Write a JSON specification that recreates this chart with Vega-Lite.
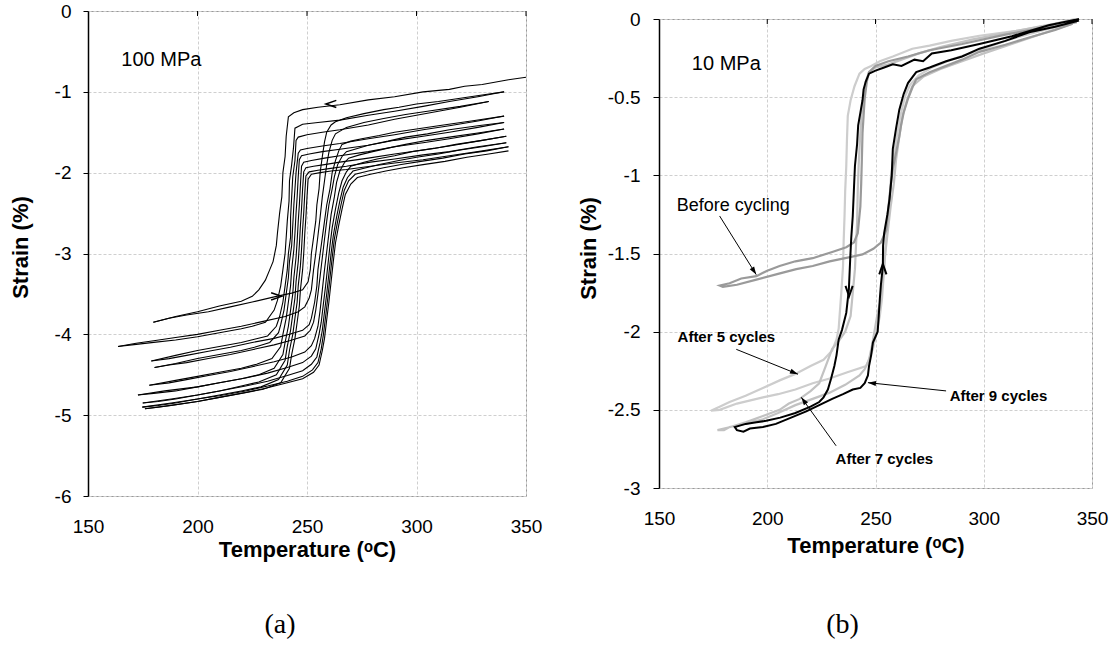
{
"$schema": "https://vega.github.io/schema/vega-lite/v6.json",
"background": "white",
"padding": {"left": 8, "top": 1, "right": 0, "bottom": 0},
"bounds": "flush",
"center": true,
"spacing": 133,
"resolve": {"scale": {"shape": "independent", "color": "independent"}},
"config": {
  "font": "Liberation Sans",
  "view": {"stroke": "#999999", "strokeWidth": 1},
  "axis": {"labelFont": "Liberation Sans", "titleFont": "Liberation Sans", "labelColor": "#000000", "titleColor": "#000000", "gridColor": "#cfcfcf", "gridDash": [3, 2], "gridWidth": 1}
},
"datasets": {
"A": [
{"b":"c1","t":350,"s":-0.82},{"b":"c1","t":342,"s":-0.85},{"b":"c1","t":330,"s":-0.91},{"b":"c1","t":322,"s":-0.93},{"b":"c1","t":315,"s":-0.97},{"b":"c1","t":303,"s":-1.0},{"b":"c1","t":290,"s":-1.06},{"b":"c1","t":278,"s":-1.1},{"b":"c1","t":265,"s":-1.16},{"b":"c1","t":255,"s":-1.19},{"b":"c1","t":248,"s":-1.22},{"b":"c1","t":244,"s":-1.26},{"b":"c1","t":241.5,"s":-1.31},{"b":"c1","t":240.5,"s":-1.55},{"b":"c1","t":240,"s":-1.8},{"b":"c1","t":239,"s":-2.0},{"b":"c1","t":238.5,"s":-2.3},{"b":"c1","t":237.5,"s":-2.5},{"b":"c1","t":236.5,"s":-2.75},{"b":"c1","t":236,"s":-2.9},{"b":"c1","t":234.5,"s":-3.1},{"b":"c1","t":233,"s":-3.2},{"b":"c1","t":231,"s":-3.33},{"b":"c1","t":228,"s":-3.45},{"b":"c1","t":225,"s":-3.53},{"b":"c1","t":220,"s":-3.59},{"b":"c1","t":210,"s":-3.65},{"b":"c1","t":200,"s":-3.72},{"b":"c1","t":190,"s":-3.78},{"b":"c1","t":180,"s":-3.85},
{"b":"h1","t":179.7,"s":-3.85},{"b":"h1","t":187,"s":-3.8},{"b":"h1","t":195,"s":-3.76},{"b":"h1","t":205,"s":-3.72},{"b":"h1","t":215,"s":-3.66},{"b":"h1","t":225,"s":-3.6},{"b":"h1","t":236,"s":-3.53},{"b":"h1","t":243,"s":-3.49},{"b":"h1","t":248,"s":-3.45},{"b":"h1","t":250.5,"s":-3.35},{"b":"h1","t":251.5,"s":-3.2},{"b":"h1","t":252,"s":-3.0},{"b":"h1","t":253,"s":-2.8},{"b":"h1","t":254,"s":-2.6},{"b":"h1","t":254.5,"s":-2.4},{"b":"h1","t":255.5,"s":-2.2},{"b":"h1","t":256,"s":-2.0},{"b":"h1","t":257,"s":-1.8},{"b":"h1","t":258,"s":-1.62},{"b":"h1","t":259,"s":-1.5},{"b":"h1","t":261,"s":-1.41},{"b":"h1","t":263,"s":-1.37},{"b":"h1","t":268,"s":-1.32},{"b":"h1","t":276,"s":-1.27},{"b":"h1","t":285,"s":-1.22},{"b":"h1","t":292,"s":-1.19},{"b":"h1","t":300,"s":-1.15},{"b":"h1","t":310,"s":-1.12},{"b":"h1","t":320,"s":-1.08},{"b":"h1","t":330,"s":-1.04},{"b":"h1","t":340,"s":-1.0},
{"b":"c2","t":340,"s":-1.0},{"b":"c2","t":328,"s":-1.06},{"b":"c2","t":315,"s":-1.12},{"b":"c2","t":303,"s":-1.18},{"b":"c2","t":290,"s":-1.24},{"b":"c2","t":278,"s":-1.29},{"b":"c2","t":265,"s":-1.35},{"b":"c2","t":255,"s":-1.38},{"b":"c2","t":248,"s":-1.4},{"b":"c2","t":244.5,"s":-1.45},{"b":"c2","t":243.8,"s":-1.7},{"b":"c2","t":243,"s":-1.9},{"b":"c2","t":242,"s":-2.1},{"b":"c2","t":241.8,"s":-2.35},{"b":"c2","t":241,"s":-2.6},{"b":"c2","t":240.5,"s":-2.8},{"b":"c2","t":240,"s":-3.0},{"b":"c2","t":239,"s":-3.2},{"b":"c2","t":238,"s":-3.4},{"b":"c2","t":236.5,"s":-3.58},{"b":"c2","t":235,"s":-3.7},{"b":"c2","t":231,"s":-3.85},{"b":"c2","t":225,"s":-3.9},{"b":"c2","t":220,"s":-3.93},{"b":"c2","t":210,"s":-3.98},{"b":"c2","t":200,"s":-4.03},{"b":"c2","t":190,"s":-4.07},{"b":"c2","t":180,"s":-4.1},{"b":"c2","t":170,"s":-4.13},{"b":"c2","t":163.7,"s":-4.15},
{"b":"h2","t":163.7,"s":-4.15},{"b":"h2","t":172,"s":-4.11},{"b":"h2","t":180,"s":-4.08},{"b":"h2","t":190,"s":-4.04},{"b":"h2","t":200,"s":-4.0},{"b":"h2","t":210,"s":-3.95},{"b":"h2","t":220,"s":-3.9},{"b":"h2","t":230,"s":-3.84},{"b":"h2","t":240,"s":-3.78},{"b":"h2","t":246,"s":-3.72},{"b":"h2","t":249,"s":-3.66},{"b":"h2","t":251,"s":-3.55},{"b":"h2","t":252,"s":-3.45},{"b":"h2","t":253,"s":-3.2},{"b":"h2","t":254,"s":-3.0},{"b":"h2","t":255,"s":-2.78},{"b":"h2","t":256,"s":-2.55},{"b":"h2","t":257,"s":-2.3},{"b":"h2","t":258,"s":-2.1},{"b":"h2","t":259,"s":-1.9},{"b":"h2","t":260,"s":-1.75},{"b":"h2","t":261.5,"s":-1.6},{"b":"h2","t":263,"s":-1.52},{"b":"h2","t":268,"s":-1.44},{"b":"h2","t":276,"s":-1.38},{"b":"h2","t":285,"s":-1.33},{"b":"h2","t":295,"s":-1.28},{"b":"h2","t":305,"s":-1.24},{"b":"h2","t":320,"s":-1.18},{"b":"h2","t":333,"s":-1.12},
{"b":"c3","t":333,"s":-1.12},{"b":"c3","t":320,"s":-1.19},{"b":"c3","t":310,"s":-1.24},{"b":"c3","t":300,"s":-1.29},{"b":"c3","t":290,"s":-1.34},{"b":"c3","t":278,"s":-1.41},{"b":"c3","t":265,"s":-1.47},{"b":"c3","t":257,"s":-1.5},{"b":"c3","t":250,"s":-1.53},{"b":"c3","t":246,"s":-1.56},{"b":"c3","t":245,"s":-1.6},{"b":"c3","t":244.5,"s":-1.85},{"b":"c3","t":243.5,"s":-2.05},{"b":"c3","t":243,"s":-2.3},{"b":"c3","t":242.5,"s":-2.55},{"b":"c3","t":242.5,"s":-2.8},{"b":"c3","t":241.5,"s":-3.0},{"b":"c3","t":241,"s":-3.2},{"b":"c3","t":240,"s":-3.4},{"b":"c3","t":239,"s":-3.6},{"b":"c3","t":237.5,"s":-3.78},{"b":"c3","t":236,"s":-3.9},{"b":"c3","t":232,"s":-4.02},{"b":"c3","t":226,"s":-4.06},{"b":"c3","t":220,"s":-4.1},{"b":"c3","t":210,"s":-4.15},{"b":"c3","t":200,"s":-4.2},{"b":"c3","t":190,"s":-4.26},{"b":"c3","t":178.9,"s":-4.33},
{"b":"h3","t":178.9,"s":-4.33},{"b":"h3","t":187,"s":-4.3},{"b":"h3","t":195,"s":-4.26},{"b":"h3","t":205,"s":-4.21},{"b":"h3","t":215,"s":-4.16},{"b":"h3","t":225,"s":-4.1},{"b":"h3","t":235,"s":-4.05},{"b":"h3","t":242,"s":-4.0},{"b":"h3","t":248,"s":-3.95},{"b":"h3","t":251,"s":-3.88},{"b":"h3","t":252,"s":-3.8},{"b":"h3","t":253.5,"s":-3.6},{"b":"h3","t":254.5,"s":-3.4},{"b":"h3","t":255,"s":-3.2},{"b":"h3","t":256,"s":-3.0},{"b":"h3","t":257,"s":-2.8},{"b":"h3","t":258,"s":-2.6},{"b":"h3","t":259,"s":-2.4},{"b":"h3","t":260.5,"s":-2.2},{"b":"h3","t":261.5,"s":-2.0},{"b":"h3","t":263,"s":-1.85},{"b":"h3","t":264.5,"s":-1.73},{"b":"h3","t":266,"s":-1.65},{"b":"h3","t":270,"s":-1.61},{"b":"h3","t":275,"s":-1.58},{"b":"h3","t":283,"s":-1.54},{"b":"h3","t":290,"s":-1.5},{"b":"h3","t":300,"s":-1.46},{"b":"h3","t":310,"s":-1.42},{"b":"h3","t":325,"s":-1.36},{"b":"h3","t":340,"s":-1.3},
{"b":"c4","t":340,"s":-1.3},{"b":"c4","t":328,"s":-1.36},{"b":"c4","t":315,"s":-1.42},{"b":"c4","t":303,"s":-1.47},{"b":"c4","t":290,"s":-1.53},{"b":"c4","t":278,"s":-1.58},{"b":"c4","t":265,"s":-1.64},{"b":"c4","t":257,"s":-1.67},{"b":"c4","t":250,"s":-1.7},{"b":"c4","t":247,"s":-1.72},{"b":"c4","t":246,"s":-1.76},{"b":"c4","t":245,"s":-2.0},{"b":"c4","t":244.5,"s":-2.2},{"b":"c4","t":244,"s":-2.4},{"b":"c4","t":243.5,"s":-2.65},{"b":"c4","t":243,"s":-2.9},{"b":"c4","t":242,"s":-3.1},{"b":"c4","t":241.5,"s":-3.3},{"b":"c4","t":240.5,"s":-3.5},{"b":"c4","t":239.5,"s":-3.7},{"b":"c4","t":238,"s":-3.88},{"b":"c4","t":237,"s":-3.98},{"b":"c4","t":233,"s":-4.1},{"b":"c4","t":226,"s":-4.16},{"b":"c4","t":220,"s":-4.2},{"b":"c4","t":210,"s":-4.25},{"b":"c4","t":200,"s":-4.3},{"b":"c4","t":190,"s":-4.36},{"b":"c4","t":180.4,"s":-4.41},
{"b":"h4","t":180.4,"s":-4.41},{"b":"h4","t":187,"s":-4.38},{"b":"h4","t":195,"s":-4.35},{"b":"h4","t":205,"s":-4.3},{"b":"h4","t":215,"s":-4.25},{"b":"h4","t":225,"s":-4.19},{"b":"h4","t":235,"s":-4.13},{"b":"h4","t":242,"s":-4.08},{"b":"h4","t":249,"s":-4.02},{"b":"h4","t":251.5,"s":-3.95},{"b":"h4","t":253,"s":-3.85},{"b":"h4","t":254,"s":-3.7},{"b":"h4","t":255,"s":-3.5},{"b":"h4","t":256,"s":-3.28},{"b":"h4","t":257,"s":-3.05},{"b":"h4","t":258,"s":-2.82},{"b":"h4","t":259,"s":-2.6},{"b":"h4","t":260,"s":-2.4},{"b":"h4","t":261.5,"s":-2.2},{"b":"h4","t":262.5,"s":-2.05},{"b":"h4","t":264,"s":-1.9},{"b":"h4","t":266,"s":-1.8},{"b":"h4","t":268,"s":-1.74},{"b":"h4","t":273,"s":-1.7},{"b":"h4","t":278,"s":-1.66},{"b":"h4","t":287,"s":-1.61},{"b":"h4","t":295,"s":-1.56},{"b":"h4","t":305,"s":-1.52},{"b":"h4","t":315,"s":-1.47},{"b":"h4","t":328,"s":-1.42},{"b":"h4","t":340,"s":-1.38},
{"b":"c5","t":340,"s":-1.38},{"b":"c5","t":328,"s":-1.44},{"b":"c5","t":315,"s":-1.5},{"b":"c5","t":303,"s":-1.55},{"b":"c5","t":290,"s":-1.6},{"b":"c5","t":278,"s":-1.66},{"b":"c5","t":265,"s":-1.71},{"b":"c5","t":257,"s":-1.74},{"b":"c5","t":251,"s":-1.77},{"b":"c5","t":247.5,"s":-1.79},{"b":"c5","t":246.5,"s":-1.84},{"b":"c5","t":246,"s":-2.05},{"b":"c5","t":245.5,"s":-2.3},{"b":"c5","t":245,"s":-2.5},{"b":"c5","t":244.5,"s":-2.75},{"b":"c5","t":244,"s":-2.95},{"b":"c5","t":243,"s":-3.2},{"b":"c5","t":242.5,"s":-3.4},{"b":"c5","t":241.5,"s":-3.6},{"b":"c5","t":240.5,"s":-3.8},{"b":"c5","t":239,"s":-4.0},{"b":"c5","t":238,"s":-4.15},{"b":"c5","t":234,"s":-4.3},{"b":"c5","t":227,"s":-4.37},{"b":"c5","t":220,"s":-4.42},{"b":"c5","t":210,"s":-4.47},{"b":"c5","t":200,"s":-4.52},{"b":"c5","t":190,"s":-4.57},{"b":"c5","t":178,"s":-4.63},
{"b":"h5","t":178,"s":-4.63},{"b":"h5","t":187,"s":-4.6},{"b":"h5","t":195,"s":-4.56},{"b":"h5","t":205,"s":-4.51},{"b":"h5","t":215,"s":-4.46},{"b":"h5","t":225,"s":-4.4},{"b":"h5","t":235,"s":-4.34},{"b":"h5","t":243,"s":-4.28},{"b":"h5","t":249,"s":-4.22},{"b":"h5","t":252,"s":-4.14},{"b":"h5","t":253.5,"s":-4.05},{"b":"h5","t":255,"s":-3.9},{"b":"h5","t":256,"s":-3.7},{"b":"h5","t":257,"s":-3.45},{"b":"h5","t":258,"s":-3.2},{"b":"h5","t":259,"s":-2.98},{"b":"h5","t":260,"s":-2.75},{"b":"h5","t":261,"s":-2.52},{"b":"h5","t":262.5,"s":-2.3},{"b":"h5","t":263.5,"s":-2.12},{"b":"h5","t":265,"s":-1.98},{"b":"h5","t":267,"s":-1.88},{"b":"h5","t":269,"s":-1.82},{"b":"h5","t":274,"s":-1.78},{"b":"h5","t":280,"s":-1.74},{"b":"h5","t":288,"s":-1.69},{"b":"h5","t":295,"s":-1.65},{"b":"h5","t":305,"s":-1.6},{"b":"h5","t":315,"s":-1.56},{"b":"h5","t":328,"s":-1.51},{"b":"h5","t":340,"s":-1.46},
{"b":"c6","t":340,"s":-1.46},{"b":"c6","t":328,"s":-1.52},{"b":"c6","t":315,"s":-1.58},{"b":"c6","t":303,"s":-1.63},{"b":"c6","t":290,"s":-1.68},{"b":"c6","t":278,"s":-1.74},{"b":"c6","t":265,"s":-1.79},{"b":"c6","t":258,"s":-1.82},{"b":"c6","t":252,"s":-1.85},{"b":"c6","t":248.5,"s":-1.87},{"b":"c6","t":247.5,"s":-1.92},{"b":"c6","t":247,"s":-2.15},{"b":"c6","t":246.5,"s":-2.4},{"b":"c6","t":246,"s":-2.6},{"b":"c6","t":245.5,"s":-2.85},{"b":"c6","t":245,"s":-3.05},{"b":"c6","t":244,"s":-3.3},{"b":"c6","t":243.5,"s":-3.5},{"b":"c6","t":242.5,"s":-3.7},{"b":"c6","t":241.5,"s":-3.9},{"b":"c6","t":240,"s":-4.1},{"b":"c6","t":239,"s":-4.25},{"b":"c6","t":235,"s":-4.42},{"b":"c6","t":228,"s":-4.5},{"b":"c6","t":220,"s":-4.55},{"b":"c6","t":210,"s":-4.6},{"b":"c6","t":200,"s":-4.65},{"b":"c6","t":185,"s":-4.7},{"b":"c6","t":172.8,"s":-4.75},
{"b":"h6","t":172.8,"s":-4.75},{"b":"h6","t":180,"s":-4.73},{"b":"h6","t":190,"s":-4.7},{"b":"h6","t":200,"s":-4.65},{"b":"h6","t":210,"s":-4.6},{"b":"h6","t":222,"s":-4.54},{"b":"h6","t":232,"s":-4.48},{"b":"h6","t":241,"s":-4.41},{"b":"h6","t":248,"s":-4.35},{"b":"h6","t":252,"s":-4.27},{"b":"h6","t":254,"s":-4.18},{"b":"h6","t":255.5,"s":-4.0},{"b":"h6","t":256.5,"s":-3.85},{"b":"h6","t":257.5,"s":-3.62},{"b":"h6","t":258.5,"s":-3.4},{"b":"h6","t":259.5,"s":-3.15},{"b":"h6","t":260.5,"s":-2.9},{"b":"h6","t":261.5,"s":-2.68},{"b":"h6","t":263,"s":-2.45},{"b":"h6","t":264.5,"s":-2.25},{"b":"h6","t":266,"s":-2.1},{"b":"h6","t":268,"s":-1.99},{"b":"h6","t":270,"s":-1.92},{"b":"h6","t":276,"s":-1.87},{"b":"h6","t":282,"s":-1.83},{"b":"h6","t":290,"s":-1.79},{"b":"h6","t":298,"s":-1.74},{"b":"h6","t":308,"s":-1.7},{"b":"h6","t":318,"s":-1.65},{"b":"h6","t":330,"s":-1.6},{"b":"h6","t":341,"s":-1.55},
{"b":"c7","t":341,"s":-1.55},{"b":"c7","t":328,"s":-1.61},{"b":"c7","t":315,"s":-1.67},{"b":"c7","t":303,"s":-1.72},{"b":"c7","t":290,"s":-1.77},{"b":"c7","t":278,"s":-1.82},{"b":"c7","t":265,"s":-1.87},{"b":"c7","t":258,"s":-1.9},{"b":"c7","t":253,"s":-1.92},{"b":"c7","t":249.5,"s":-1.94},{"b":"c7","t":248.5,"s":-1.99},{"b":"c7","t":248,"s":-2.2},{"b":"c7","t":247.5,"s":-2.45},{"b":"c7","t":247,"s":-2.65},{"b":"c7","t":246.5,"s":-2.9},{"b":"c7","t":246,"s":-3.1},{"b":"c7","t":245,"s":-3.35},{"b":"c7","t":244.5,"s":-3.55},{"b":"c7","t":243.5,"s":-3.75},{"b":"c7","t":242.5,"s":-3.95},{"b":"c7","t":241,"s":-4.15},{"b":"c7","t":240,"s":-4.32},{"b":"c7","t":236,"s":-4.5},{"b":"c7","t":228,"s":-4.59},{"b":"c7","t":220,"s":-4.64},{"b":"c7","t":210,"s":-4.7},{"b":"c7","t":200,"s":-4.75},{"b":"c7","t":188,"s":-4.8},{"b":"c7","t":175,"s":-4.85},
{"b":"h7","t":175,"s":-4.85},{"b":"h7","t":182,"s":-4.83},{"b":"h7","t":190,"s":-4.8},{"b":"h7","t":200,"s":-4.75},{"b":"h7","t":210,"s":-4.7},{"b":"h7","t":222,"s":-4.64},{"b":"h7","t":232,"s":-4.58},{"b":"h7","t":241,"s":-4.51},{"b":"h7","t":248,"s":-4.45},{"b":"h7","t":252,"s":-4.37},{"b":"h7","t":254.5,"s":-4.28},{"b":"h7","t":256,"s":-4.1},{"b":"h7","t":257,"s":-3.95},{"b":"h7","t":258,"s":-3.72},{"b":"h7","t":259,"s":-3.5},{"b":"h7","t":260,"s":-3.25},{"b":"h7","t":261,"s":-3.0},{"b":"h7","t":262,"s":-2.78},{"b":"h7","t":263.5,"s":-2.55},{"b":"h7","t":265,"s":-2.35},{"b":"h7","t":266.5,"s":-2.18},{"b":"h7","t":268.5,"s":-2.06},{"b":"h7","t":271,"s":-1.98},{"b":"h7","t":277,"s":-1.94},{"b":"h7","t":283,"s":-1.9},{"b":"h7","t":292,"s":-1.85},{"b":"h7","t":300,"s":-1.81},{"b":"h7","t":310,"s":-1.77},{"b":"h7","t":320,"s":-1.72},{"b":"h7","t":330,"s":-1.68},{"b":"h7","t":341,"s":-1.63},
{"b":"c8","t":341,"s":-1.63},{"b":"c8","t":328,"s":-1.68},{"b":"c8","t":315,"s":-1.74},{"b":"c8","t":303,"s":-1.78},{"b":"c8","t":290,"s":-1.83},{"b":"c8","t":279,"s":-1.87},{"b":"c8","t":268,"s":-1.92},{"b":"c8","t":260,"s":-1.95},{"b":"c8","t":255,"s":-1.97},{"b":"c8","t":251,"s":-1.99},{"b":"c8","t":249.5,"s":-2.04},{"b":"c8","t":249,"s":-2.25},{"b":"c8","t":248.5,"s":-2.5},{"b":"c8","t":248,"s":-2.7},{"b":"c8","t":247.5,"s":-2.95},{"b":"c8","t":247,"s":-3.15},{"b":"c8","t":246,"s":-3.4},{"b":"c8","t":245.5,"s":-3.6},{"b":"c8","t":244.5,"s":-3.8},{"b":"c8","t":243.5,"s":-4.0},{"b":"c8","t":242,"s":-4.2},{"b":"c8","t":241,"s":-4.38},{"b":"c8","t":237,"s":-4.56},{"b":"c8","t":229,"s":-4.65},{"b":"c8","t":220,"s":-4.7},{"b":"c8","t":210,"s":-4.75},{"b":"c8","t":200,"s":-4.8},{"b":"c8","t":188,"s":-4.85},{"b":"c8","t":174.8,"s":-4.9},
{"b":"h8","t":174.8,"s":-4.9},{"b":"h8","t":182,"s":-4.88},{"b":"h8","t":190,"s":-4.85},{"b":"h8","t":200,"s":-4.8},{"b":"h8","t":210,"s":-4.76},{"b":"h8","t":222,"s":-4.7},{"b":"h8","t":232,"s":-4.64},{"b":"h8","t":241,"s":-4.58},{"b":"h8","t":248,"s":-4.52},{"b":"h8","t":252.5,"s":-4.44},{"b":"h8","t":255,"s":-4.35},{"b":"h8","t":256.5,"s":-4.18},{"b":"h8","t":257.5,"s":-4.0},{"b":"h8","t":258.5,"s":-3.78},{"b":"h8","t":259.5,"s":-3.55},{"b":"h8","t":260.5,"s":-3.3},{"b":"h8","t":261.5,"s":-3.05},{"b":"h8","t":262.5,"s":-2.82},{"b":"h8","t":264,"s":-2.6},{"b":"h8","t":265.5,"s":-2.4},{"b":"h8","t":267,"s":-2.22},{"b":"h8","t":269,"s":-2.1},{"b":"h8","t":272,"s":-2.02},{"b":"h8","t":278,"s":-1.98},{"b":"h8","t":285,"s":-1.94},{"b":"h8","t":293,"s":-1.9},{"b":"h8","t":302,"s":-1.86},{"b":"h8","t":312,"s":-1.82},{"b":"h8","t":322,"s":-1.77},{"b":"h8","t":332,"s":-1.73},{"b":"h8","t":342,"s":-1.68},
{"b":"c9","t":342,"s":-1.68},{"b":"c9","t":328,"s":-1.74},{"b":"c9","t":315,"s":-1.79},{"b":"c9","t":303,"s":-1.84},{"b":"c9","t":290,"s":-1.88},{"b":"c9","t":279,"s":-1.92},{"b":"c9","t":268,"s":-1.96},{"b":"c9","t":261,"s":-1.98},{"b":"c9","t":256,"s":-2.0},{"b":"c9","t":252,"s":-2.02},{"b":"c9","t":250.5,"s":-2.08},{"b":"c9","t":250,"s":-2.3},{"b":"c9","t":249.5,"s":-2.55},{"b":"c9","t":249,"s":-2.75},{"b":"c9","t":248.5,"s":-3.0},{"b":"c9","t":248,"s":-3.2},{"b":"c9","t":247,"s":-3.45},{"b":"c9","t":246.5,"s":-3.65},{"b":"c9","t":245.5,"s":-3.85},{"b":"c9","t":244.5,"s":-4.05},{"b":"c9","t":243,"s":-4.25},{"b":"c9","t":242,"s":-4.42},{"b":"c9","t":238,"s":-4.6},{"b":"c9","t":230,"s":-4.68},{"b":"c9","t":220,"s":-4.73},{"b":"c9","t":210,"s":-4.78},{"b":"c9","t":200,"s":-4.83},{"b":"c9","t":188,"s":-4.88},{"b":"c9","t":176,"s":-4.92},
{"b":"h9","t":176,"s":-4.92},{"b":"h9","t":182,"s":-4.9},{"b":"h9","t":190,"s":-4.87},{"b":"h9","t":200,"s":-4.83},{"b":"h9","t":210,"s":-4.78},{"b":"h9","t":222,"s":-4.72},{"b":"h9","t":232,"s":-4.66},{"b":"h9","t":241,"s":-4.6},{"b":"h9","t":248,"s":-4.55},{"b":"h9","t":253,"s":-4.47},{"b":"h9","t":255.5,"s":-4.38},{"b":"h9","t":257,"s":-4.2},{"b":"h9","t":258,"s":-4.05},{"b":"h9","t":259,"s":-3.82},{"b":"h9","t":260,"s":-3.6},{"b":"h9","t":261,"s":-3.35},{"b":"h9","t":262,"s":-3.1},{"b":"h9","t":263,"s":-2.87},{"b":"h9","t":264.5,"s":-2.65},{"b":"h9","t":266,"s":-2.45},{"b":"h9","t":267.5,"s":-2.27},{"b":"h9","t":270,"s":-2.14},{"b":"h9","t":273,"s":-2.06},{"b":"h9","t":279,"s":-2.02},{"b":"h9","t":286,"s":-1.98},{"b":"h9","t":294,"s":-1.94},{"b":"h9","t":303,"s":-1.9},{"b":"h9","t":313,"s":-1.86},{"b":"h9","t":323,"s":-1.81},{"b":"h9","t":333,"s":-1.77},{"b":"h9","t":342,"s":-1.73}
],
"B": [
{"c":"after5","t":342,"s":0.0},{"c":"after5","t":328.8,"s":-0.043},{"c":"after5","t":315,"s":-0.075},{"c":"after5","t":298,"s":-0.107},{"c":"after5","t":285,"s":-0.14},{"c":"after5","t":275,"s":-0.17},{"c":"after5","t":267,"s":-0.19},{"c":"after5","t":258,"s":-0.24},{"c":"after5","t":252,"s":-0.27},{"c":"after5","t":248,"s":-0.3},{"c":"after5","t":245,"s":-0.32},{"c":"after5","t":242.6,"s":-0.35},{"c":"after5","t":240.3,"s":-0.43},{"c":"after5","t":238.5,"s":-0.52},{"c":"after5","t":237.2,"s":-0.62},{"c":"after5","t":236.8,"s":-0.78},{"c":"after5","t":236.5,"s":-0.94},{"c":"after5","t":236,"s":-1.1},{"c":"after5","t":235.7,"s":-1.26},{"c":"after5","t":235.3,"s":-1.42},{"c":"after5","t":235,"s":-1.58},{"c":"after5","t":234.2,"s":-1.75},{"c":"after5","t":233.4,"s":-1.9},{"c":"after5","t":233,"s":-1.98},{"c":"after5","t":232,"s":-2.05},{"c":"after5","t":230,"s":-2.12},{"c":"after5","t":226,"s":-2.18},{"c":"after5","t":220,"s":-2.22},{"c":"after5","t":213,"s":-2.27},{"c":"after5","t":206,"s":-2.31},{"c":"after5","t":198,"s":-2.36},{"c":"after5","t":190,"s":-2.41},{"c":"after5","t":182.6,"s":-2.45},{"c":"after5","t":178,"s":-2.48},{"c":"after5","t":174,"s":-2.506},{"c":"after5","t":178,"s":-2.5},{"c":"after5","t":186,"s":-2.46},{"c":"after5","t":198,"s":-2.42},{"c":"after5","t":205,"s":-2.4},{"c":"after5","t":213,"s":-2.37},{"c":"after5","t":221,"s":-2.33},{"c":"after5","t":228.8,"s":-2.3},{"c":"after5","t":237,"s":-2.26},{"c":"after5","t":245.7,"s":-2.22},{"c":"after5","t":247.5,"s":-2.16},{"c":"after5","t":248.8,"s":-2.11},{"c":"after5","t":250.5,"s":-2.0},{"c":"after5","t":252,"s":-1.9},{"c":"after5","t":253,"s":-1.79},{"c":"after5","t":254,"s":-1.6},{"c":"after5","t":254.8,"s":-1.42},{"c":"after5","t":255.5,"s":-1.3},{"c":"after5","t":256.5,"s":-1.15},{"c":"after5","t":257.2,"s":-1.0},{"c":"after5","t":258.5,"s":-0.87},{"c":"after5","t":260,"s":-0.74},{"c":"after5","t":261.5,"s":-0.62},{"c":"after5","t":263.5,"s":-0.5},{"c":"after5","t":266,"s":-0.42},{"c":"after5","t":270,"s":-0.36},{"c":"after5","t":276,"s":-0.31},{"c":"after5","t":285,"s":-0.26},{"c":"after5","t":298,"s":-0.2},{"c":"after5","t":312,"s":-0.13},{"c":"after5","t":328,"s":-0.07},{"c":"after5","t":342,"s":-0.02},
{"c":"after7","t":341,"s":-0.01},{"c":"after7","t":325,"s":-0.05},{"c":"after7","t":310,"s":-0.09},{"c":"after7","t":295,"s":-0.13},{"c":"after7","t":280,"s":-0.18},{"c":"after7","t":270,"s":-0.22},{"c":"after7","t":262,"s":-0.26},{"c":"after7","t":256,"s":-0.29},{"c":"after7","t":250,"s":-0.31},{"c":"after7","t":247,"s":-0.34},{"c":"after7","t":245.5,"s":-0.4},{"c":"after7","t":244.5,"s":-0.5},{"c":"after7","t":243.5,"s":-0.62},{"c":"after7","t":242.8,"s":-0.78},{"c":"after7","t":242.2,"s":-0.94},{"c":"after7","t":241.8,"s":-1.1},{"c":"after7","t":241.5,"s":-1.3},{"c":"after7","t":241,"s":-1.45},{"c":"after7","t":240.5,"s":-1.6},{"c":"after7","t":239.5,"s":-1.75},{"c":"after7","t":238.5,"s":-1.9},{"c":"after7","t":236,"s":-2.0},{"c":"after7","t":233,"s":-2.06},{"c":"after7","t":230,"s":-2.11},{"c":"after7","t":227,"s":-2.22},{"c":"after7","t":224,"s":-2.33},{"c":"after7","t":220,"s":-2.38},{"c":"after7","t":215,"s":-2.43},{"c":"after7","t":210,"s":-2.46},{"c":"after7","t":205.7,"s":-2.5},{"c":"after7","t":198,"s":-2.54},{"c":"after7","t":190,"s":-2.58},{"c":"after7","t":183,"s":-2.61},{"c":"after7","t":177,"s":-2.63},{"c":"after7","t":180,"s":-2.63},{"c":"after7","t":182.6,"s":-2.61},{"c":"after7","t":190,"s":-2.59},{"c":"after7","t":198,"s":-2.56},{"c":"after7","t":205,"s":-2.52},{"c":"after7","t":213,"s":-2.47},{"c":"after7","t":221,"s":-2.43},{"c":"after7","t":228.8,"s":-2.39},{"c":"after7","t":236,"s":-2.34},{"c":"after7","t":242.6,"s":-2.28},{"c":"after7","t":245,"s":-2.24},{"c":"after7","t":247,"s":-2.18},{"c":"after7","t":248.5,"s":-2.08},{"c":"after7","t":250,"s":-1.96},{"c":"after7","t":251,"s":-1.88},{"c":"after7","t":252.6,"s":-1.79},{"c":"after7","t":253.5,"s":-1.65},{"c":"after7","t":254.5,"s":-1.5},{"c":"after7","t":255.5,"s":-1.38},{"c":"after7","t":257,"s":-1.2},{"c":"after7","t":258.5,"s":-1.05},{"c":"after7","t":259.5,"s":-0.9},{"c":"after7","t":261,"s":-0.75},{"c":"after7","t":262.5,"s":-0.62},{"c":"after7","t":264.5,"s":-0.52},{"c":"after7","t":267,"s":-0.43},{"c":"after7","t":272,"s":-0.37},{"c":"after7","t":280,"s":-0.32},{"c":"after7","t":290,"s":-0.27},{"c":"after7","t":300,"s":-0.22},{"c":"after7","t":315,"s":-0.15},{"c":"after7","t":330,"s":-0.08},{"c":"after7","t":341,"s":-0.03},
{"c":"before","t":343,"s":-0.02},{"c":"before","t":330,"s":-0.05},{"c":"before","t":310,"s":-0.1},{"c":"before","t":290,"s":-0.16},{"c":"before","t":275,"s":-0.2},{"c":"before","t":265,"s":-0.24},{"c":"before","t":256,"s":-0.27},{"c":"before","t":250,"s":-0.3},{"c":"before","t":247,"s":-0.34},{"c":"before","t":246,"s":-0.4},{"c":"before","t":245,"s":-0.51},{"c":"before","t":244.5,"s":-0.62},{"c":"before","t":244,"s":-0.73},{"c":"before","t":243.7,"s":-0.9},{"c":"before","t":243.4,"s":-1.05},{"c":"before","t":243,"s":-1.2},{"c":"before","t":241.8,"s":-1.37},{"c":"before","t":240,"s":-1.43},{"c":"before","t":236.5,"s":-1.46},{"c":"before","t":230,"s":-1.49},{"c":"before","t":221,"s":-1.53},{"c":"before","t":213,"s":-1.55},{"c":"before","t":205.7,"s":-1.58},{"c":"before","t":200,"s":-1.61},{"c":"before","t":195,"s":-1.645},{"c":"before","t":188,"s":-1.66},{"c":"before","t":182.6,"s":-1.69},{"c":"before","t":178,"s":-1.705},{"c":"before","t":179.5,"s":-1.714},{"c":"before","t":186,"s":-1.7},{"c":"before","t":195,"s":-1.667},{"c":"before","t":205,"s":-1.63},{"c":"before","t":213.4,"s":-1.6},{"c":"before","t":221,"s":-1.58},{"c":"before","t":228.8,"s":-1.55},{"c":"before","t":236,"s":-1.53},{"c":"before","t":244,"s":-1.506},{"c":"before","t":249,"s":-1.47},{"c":"before","t":252.5,"s":-1.43},{"c":"before","t":255,"s":-1.35},{"c":"before","t":256,"s":-1.2},{"c":"before","t":257,"s":-1.07},{"c":"before","t":258,"s":-0.96},{"c":"before","t":259.5,"s":-0.855},{"c":"before","t":261,"s":-0.75},{"c":"before","t":261.8,"s":-0.68},{"c":"before","t":263,"s":-0.6},{"c":"before","t":265,"s":-0.51},{"c":"before","t":267,"s":-0.44},{"c":"before","t":268.8,"s":-0.385},{"c":"before","t":275,"s":-0.34},{"c":"before","t":282.6,"s":-0.3},{"c":"before","t":290,"s":-0.26},{"c":"before","t":298,"s":-0.21},{"c":"before","t":310,"s":-0.165},{"c":"before","t":321,"s":-0.118},{"c":"before","t":333,"s":-0.07},{"c":"before","t":341,"s":-0.03},
{"c":"after9","t":344,"s":0.0},{"c":"after9","t":330,"s":-0.04},{"c":"after9","t":313,"s":-0.11},{"c":"after9","t":298,"s":-0.16},{"c":"after9","t":285,"s":-0.2},{"c":"after9","t":276,"s":-0.22},{"c":"after9","t":272,"s":-0.27},{"c":"after9","t":268,"s":-0.26},{"c":"after9","t":262,"s":-0.3},{"c":"after9","t":258,"s":-0.29},{"c":"after9","t":254,"s":-0.31},{"c":"after9","t":250,"s":-0.33},{"c":"after9","t":247,"s":-0.35},{"c":"after9","t":245.5,"s":-0.4},{"c":"after9","t":244.5,"s":-0.45},{"c":"after9","t":244,"s":-0.52},{"c":"after9","t":243,"s":-0.6},{"c":"after9","t":242,"s":-0.68},{"c":"after9","t":241.5,"s":-0.8},{"c":"after9","t":240.5,"s":-0.94},{"c":"after9","t":240,"s":-1.1},{"c":"after9","t":239.5,"s":-1.26},{"c":"after9","t":238.8,"s":-1.4},{"c":"after9","t":238.3,"s":-1.54},{"c":"after9","t":237.7,"s":-1.73},{"c":"after9","t":236.5,"s":-1.88},{"c":"after9","t":234.5,"s":-1.99},{"c":"after9","t":233,"s":-2.05},{"c":"after9","t":232,"s":-2.15},{"c":"after9","t":231,"s":-2.22},{"c":"after9","t":229.5,"s":-2.3},{"c":"after9","t":228,"s":-2.37},{"c":"after9","t":226,"s":-2.42},{"c":"after9","t":224,"s":-2.45},{"c":"after9","t":220,"s":-2.48},{"c":"after9","t":213,"s":-2.52},{"c":"after9","t":206,"s":-2.55},{"c":"after9","t":199.5,"s":-2.57},{"c":"after9","t":195,"s":-2.58},{"c":"after9","t":190,"s":-2.59},{"c":"after9","t":185,"s":-2.61},{"c":"after9","t":186,"s":-2.63},{"c":"after9","t":189,"s":-2.64},{"c":"after9","t":192,"s":-2.62},{"c":"after9","t":198,"s":-2.61},{"c":"after9","t":204,"s":-2.59},{"c":"after9","t":211,"s":-2.55},{"c":"after9","t":218,"s":-2.51},{"c":"after9","t":224,"s":-2.47},{"c":"after9","t":230,"s":-2.43},{"c":"after9","t":235,"s":-2.4},{"c":"after9","t":239.5,"s":-2.37},{"c":"after9","t":243,"s":-2.36},{"c":"after9","t":245,"s":-2.33},{"c":"after9","t":246.5,"s":-2.28},{"c":"after9","t":247,"s":-2.22},{"c":"after9","t":248,"s":-2.15},{"c":"after9","t":248.8,"s":-2.07},{"c":"after9","t":251,"s":-2.0},{"c":"after9","t":251.5,"s":-1.9},{"c":"after9","t":252,"s":-1.79},{"c":"after9","t":252.5,"s":-1.7},{"c":"after9","t":253.4,"s":-1.58},{"c":"after9","t":253.5,"s":-1.45},{"c":"after9","t":254,"s":-1.37},{"c":"after9","t":255.5,"s":-1.25},{"c":"after9","t":256.5,"s":-1.15},{"c":"after9","t":257.5,"s":-1.0},{"c":"after9","t":258,"s":-0.83},{"c":"after9","t":259.5,"s":-0.7},{"c":"after9","t":261,"s":-0.58},{"c":"after9","t":263,"s":-0.48},{"c":"after9","t":265,"s":-0.41},{"c":"after9","t":268.8,"s":-0.34},{"c":"after9","t":275,"s":-0.31},{"c":"after9","t":282.6,"s":-0.27},{"c":"after9","t":290,"s":-0.24},{"c":"after9","t":298,"s":-0.19},{"c":"after9","t":310,"s":-0.14},{"c":"after9","t":321,"s":-0.085},{"c":"after9","t":333,"s":-0.05},{"c":"after9","t":344,"s":-0.01}
],
"ticks": [{"t": 200}, {"t": 250}, {"t": 300}, {"t": 350}]
},
"hconcat": [
{
  "width": 438, "height": 485,
  "title": {"text": "(a)", "orient": "bottom", "anchor": "middle", "dx": -27, "font": "Liberation Serif", "fontSize": 28, "fontWeight": "normal", "color": "#000000", "offset": 51},
  "layer": [
    {
      "data": {"name": "A"},
      "mark": {"type": "line", "color": "#000000", "strokeWidth": 1.1},
      "encoding": {
        "x": {"field": "t", "type": "quantitative", "scale": {"domain": [150, 350], "nice": false, "zero": false},
          "axis": {"values": [150, 200, 250, 300, 350], "domain": false, "ticks": false, "tickSize": 0, "labelPadding": 21, "labelFontSize": 19, "labelFlush": false, "title": "Temperature (ᵒC)", "titleFontSize": 22, "titleFontWeight": "bold", "titlePadding": 3, "grid": true}},
        "y": {"field": "s", "type": "quantitative", "scale": {"domain": [-6, 0], "nice": false, "zero": false},
          "axis": {"values": [-6, -5, -4, -3, -2, -1, 0], "labelExpr": "'' + datum.value", "domainColor": "#000000", "domainWidth": 1.5, "tickColor": "#000000", "tickSize": 5, "labelPadding": 12, "labelFontSize": 19, "title": "Strain (%)", "titleFontSize": 22, "titleFontWeight": "bold", "titleX": -68, "titleY": 236, "titleBaseline": "middle", "titleAlign": "center", "titleAngle": 270, "grid": true}},
        "detail": {"field": "b"},
        "order": {"value": null}
      }
    },
    {
      "mark": {"type": "rule", "color": "#000000", "strokeWidth": 1.5},
      "encoding": {"y": {"datum": 0, "type": "quantitative"}}
    },
    {
      "data": {"name": "ticks"},
      "mark": {"type": "rule", "color": "#000000", "strokeWidth": 1},
      "encoding": {
        "x": {"field": "t", "type": "quantitative"},
        "y": {"datum": 0, "type": "quantitative"},
        "y2": {"datum": -0.062}
      }
    },
    {
      "data": {"values": [{"t": 261, "s": -1.15, "d": "left"}, {"t": 236, "s": -3.53, "d": "right"}]},
      "mark": {"type": "point", "filled": false, "color": "#000000", "strokeWidth": 1.5, "size": 170, "opacity": 1},
      "encoding": {
        "x": {"field": "t", "type": "quantitative"},
        "y": {"field": "s", "type": "quantitative"},
        "shape": {"field": "d", "type": "nominal", "scale": {"domain": ["left", "right"], "range": ["M0.8,-0.55L-0.8,0L0.8,0.55", "M-0.8,-0.55L0.8,0L-0.8,0.55"]}, "legend": null}
      }
    },
    {
      "data": {"values": [{"t": 183.5, "s": -0.6, "label": "100 MPa"}]},
      "mark": {"type": "text", "fontSize": 20, "color": "#000000", "align": "center", "baseline": "middle"},
      "encoding": {
        "x": {"field": "t", "type": "quantitative"},
        "y": {"field": "s", "type": "quantitative"},
        "text": {"field": "label"}
      }
    }
  ]
},
{
  "width": 433, "height": 469,
  "title": {"text": "(b)", "orient": "bottom", "anchor": "middle", "dx": -33, "font": "Liberation Serif", "fontSize": 28, "fontWeight": "normal", "color": "#000000", "offset": 55},
  "layer": [
    {
      "data": {"name": "B"},
      "transform": [{"filter": "datum.c == 'after5' || datum.c == 'after7'"}],
      "mark": {"type": "line", "strokeWidth": 2.2},
      "encoding": {
        "x": {"field": "t", "type": "quantitative", "scale": {"domain": [150, 350], "nice": false, "zero": false},
          "axis": {"values": [150, 200, 250, 300, 350], "domain": false, "ticks": false, "tickSize": 0, "labelPadding": 21, "labelFontSize": 19, "labelFlush": false, "title": "Temperature (ᵒC)", "titleFontSize": 22, "titleFontWeight": "bold", "titlePadding": 7, "grid": true}},
        "y": {"field": "s", "type": "quantitative", "scale": {"domain": [-3, 0], "nice": false, "zero": false},
          "axis": {"values": [-3, -2.5, -2, -1.5, -1, -0.5, 0], "labelExpr": "'' + datum.value", "domainColor": "#000000", "domainWidth": 1.5, "tickColor": "#000000", "tickSize": 6, "labelPadding": 13, "labelFontSize": 19, "title": "Strain (%)", "titleFontSize": 22, "titleFontWeight": "bold", "titleX": -71, "titleY": 229, "titleBaseline": "middle", "titleAlign": "center", "titleAngle": 270, "grid": true}},
        "color": {"field": "c", "type": "nominal", "scale": {"domain": ["after5", "after7"], "range": ["#cdcdcd", "#c2c2c2"]}, "legend": null},
        "order": {"value": null}
      }
    },
    {
      "data": {"name": "B"},
      "transform": [{"filter": "datum.c == 'before'"}],
      "mark": {"type": "line", "strokeWidth": 2.2, "color": "#9a9a9a"},
      "encoding": {
        "x": {"field": "t", "type": "quantitative"},
        "y": {"field": "s", "type": "quantitative"},
        "order": {"value": null}
      }
    },
    {
      "data": {"name": "B"},
      "transform": [{"filter": "datum.c == 'after9'"}],
      "mark": {"type": "line", "strokeWidth": 2, "color": "#000000"},
      "encoding": {
        "x": {"field": "t", "type": "quantitative"},
        "y": {"field": "s", "type": "quantitative"},
        "order": {"value": null}
      }
    },
    {
      "mark": {"type": "rule", "color": "#000000", "strokeWidth": 1.5},
      "encoding": {"y": {"datum": 0, "type": "quantitative"}}
    },
    {
      "data": {"name": "ticks"},
      "mark": {"type": "rule", "color": "#000000", "strokeWidth": 1},
      "encoding": {
        "x": {"field": "t", "type": "quantitative"},
        "y": {"datum": 0, "type": "quantitative"},
        "y2": {"datum": -0.032}
      }
    },
    {
      "data": {"values": [{"t": 237.8, "s": -1.74, "d": "down"}, {"t": 253.4, "s": -1.6, "d": "up"}]},
      "mark": {"type": "point", "filled": false, "color": "#000000", "strokeWidth": 2, "size": 170, "opacity": 1},
      "encoding": {
        "x": {"field": "t", "type": "quantitative"},
        "y": {"field": "s", "type": "quantitative"},
        "shape": {"field": "d", "type": "nominal", "scale": {"domain": ["down", "up"], "range": ["M-0.55,-0.8L0,0.8L0.55,-0.8", "M-0.55,0.8L0,-0.8L0.55,0.8"]}, "legend": null}
      }
    },
    {
      "data": {"values": [
        {"t": 178, "s": -1.26, "t2": 194.9, "s2": -1.635},
        {"t": 185.7, "s": -2.113, "t2": 214.2, "s2": -2.272},
        {"t": 282.6, "s": -2.379, "t2": 246.5, "s2": -2.326},
        {"t": 231.8, "s": -2.73, "t2": 215.7, "s2": -2.42}
      ]},
      "mark": {"type": "rule", "color": "#000000", "strokeWidth": 1},
      "encoding": {
        "x": {"field": "t", "type": "quantitative"},
        "y": {"field": "s", "type": "quantitative"},
        "x2": {"field": "t2"},
        "y2": {"field": "s2"}
      }
    },
    {
      "data": {"values": [{"t": 194.9, "s": -1.635}]},
      "mark": {"type": "point", "shape": "M0,0L-0.32,1L0.32,1Z", "filled": true, "color": "#000000", "size": 260, "angle": 148, "opacity": 1},
      "encoding": {"x": {"field": "t", "type": "quantitative"}, "y": {"field": "s", "type": "quantitative"}}
    },
    {
      "data": {"values": [{"t": 214.2, "s": -2.272}]},
      "mark": {"type": "point", "shape": "M0,0L-0.32,1L0.32,1Z", "filled": true, "color": "#000000", "size": 260, "angle": 112, "opacity": 1},
      "encoding": {"x": {"field": "t", "type": "quantitative"}, "y": {"field": "s", "type": "quantitative"}}
    },
    {
      "data": {"values": [{"t": 246.5, "s": -2.326}]},
      "mark": {"type": "point", "shape": "M0,0L-0.32,1L0.32,1Z", "filled": true, "color": "#000000", "size": 260, "angle": 276, "opacity": 1},
      "encoding": {"x": {"field": "t", "type": "quantitative"}, "y": {"field": "s", "type": "quantitative"}}
    },
    {
      "data": {"values": [{"t": 215.7, "s": -2.42}]},
      "mark": {"type": "point", "shape": "M0,0L-0.32,1L0.32,1Z", "filled": true, "color": "#000000", "size": 260, "angle": 324, "opacity": 1},
      "encoding": {"x": {"field": "t", "type": "quantitative"}, "y": {"field": "s", "type": "quantitative"}}
    },
    {
      "data": {"values": [{"t": 181.1, "s": -0.288, "label": "10 MPa"}]},
      "mark": {"type": "text", "fontSize": 20, "color": "#000000", "align": "center", "baseline": "middle"},
      "encoding": {"x": {"field": "t", "type": "quantitative"}, "y": {"field": "s", "type": "quantitative"}, "text": {"field": "label"}}
    },
    {
      "data": {"values": [{"t": 184.3, "s": -1.196, "label": "Before cycling"}]},
      "mark": {"type": "text", "fontSize": 18, "color": "#000000", "align": "center", "baseline": "middle"},
      "encoding": {"x": {"field": "t", "type": "quantitative"}, "y": {"field": "s", "type": "quantitative"}, "text": {"field": "label"}}
    },
    {
      "data": {"values": [
        {"t": 181.1, "s": -2.036, "label": "After 5 cycles"},
        {"t": 306.8, "s": -2.41, "label": "After 9 cycles"},
        {"t": 254.1, "s": -2.815, "label": "After 7 cycles"}
      ]},
      "mark": {"type": "text", "fontSize": 15, "fontWeight": "bold", "color": "#000000", "align": "center", "baseline": "middle"},
      "encoding": {"x": {"field": "t", "type": "quantitative"}, "y": {"field": "s", "type": "quantitative"}, "text": {"field": "label"}}
    }
  ]
}
]
}
